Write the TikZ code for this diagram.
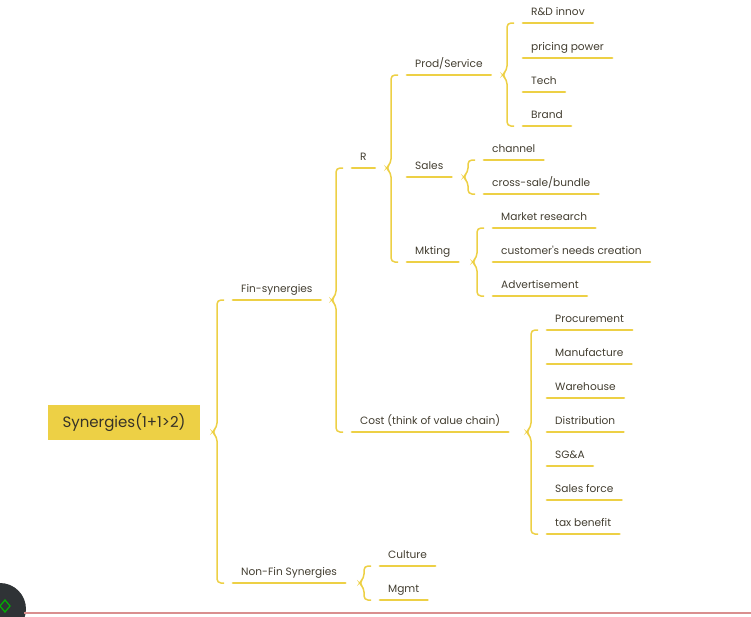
\documentclass[tikz,border=0pt]{standalone}
\usepackage{fontspec}
\setmainfont{Poppins}
\usetikzlibrary{positioning,calc}
\definecolor{hiyellow}{HTML}{EDD045}
\definecolor{inkgray}{HTML}{433E31}
\definecolor{pinkline}{HTML}{D98F8F}
\definecolor{screendark}{HTML}{2F3336}
\tikzset{
item/.style={
anchor=south west,
inner xsep=8pt,
inner ysep=4pt,
text depth=3pt,
font=\fontsize{10.6}{12}\selectfont,
text=inkgray
},
rootbox/.style={
fill=hiyellow,
minimum width=152pt,
minimum height=35pt,
font=\fontsize{15}{17}\selectfont,
text=inkgray!80!black
},
uline/.style={
draw=hiyellow,
line width=2.8pt,
line cap=round
},
brace/.style={
draw=hiyellow,
line width=1.5pt,
rounded corners=4pt
}
}
% curly bracket: parent point, first child, last child
\newcommand{\curly}[3]{%
\coordinate (bt) at ([xshift=-16pt]#2.south west);
\coordinate (bb) at (bt |- #3.south);
\coordinate (bm) at (bt |- #1);
\draw[brace] ([xshift=7pt]bt) -- (bt) -- ([yshift=5pt]bm) -- ([xshift=-5pt]bm)
 -- ([yshift=-5pt]bm) -- (bb) -- ([xshift=7pt]bb);
}

\begin{document}
\begin{tikzpicture}[x=1pt,y=-1pt]
\useasboundingbox (0,0) rectangle (751,616);

\node[rootbox](root) at (124,422.5){Synergies(1+1>2)};
\coordinate (rootend) at (200,432);

\node[item](fin) at (233,300){Fin-synergies};
\node[item](nonfin) at (233,583){Non-Fin Synergies};

\node[item](r) at (352,168){R};
\node[item](cost) at (352,432){Cost (think of value chain)};

\node[item](prod) at (407,75){Prod/Service};
\node[item](sales) at (407,177){Sales};
\node[item](mkt) at (407,262){Mkting};

\node[item](rd) at (523,23){R\&D innov};
\node[item](price) at (523,58){pricing power};
\node[item](tech) at (523,92){Tech};
\node[item](brand) at (523,126){Brand};

\node[item](chan) at (484,160){channel};
\node[item](cross) at (484,194){cross-sale/bundle};

\node[item](mres) at (493,228){Market research};
\node[item](cneed) at (493,262){customer\textquotesingle s needs creation};
\node[item](adv) at (493,296){Advertisement};

\node[item](proc) at (547,330){Procurement};
\node[item](manu) at (547,364){Manufacture};
\node[item](ware) at (547,398){Warehouse};
\node[item](dist) at (547,432){Distribution};
\node[item](sga) at (547,466){SG\&A};
\node[item](sfor) at (547,500){Sales force};
\node[item](tax) at (547,534){tax benefit};

\node[item](cult) at (380,566){Culture};
\node[item](mgmt) at (380,600){Mgmt};

\foreach \n in {fin,nonfin,r,cost,prod,sales,mkt,rd,price,tech,brand,chan,cross,
mres,cneed,adv,proc,manu,ware,dist,sga,sfor,tax,cult,mgmt}
\draw[uline](\n.south west)--(\n.south east);

\curly{rootend}{fin}{nonfin}
\curly{fin.south}{r}{cost}
\curly{r.south}{prod}{mkt}
\curly{prod.south}{rd}{brand}
\curly{sales.south}{chan}{cross}
\curly{mkt.south}{mres}{adv}
\curly{cost.south}{proc}{tax}
\curly{nonfin.south}{cult}{mgmt}

% screen edge
\fill[screendark](0,609) circle (26);
\draw[pinkline,line width=1.2pt](24,613)--(751,613);
\draw[green!70!black,line width=1.2pt] (5,600)--(10,606)--(5,612)--(0,606)--cycle;

\end{tikzpicture}
\end{document}
